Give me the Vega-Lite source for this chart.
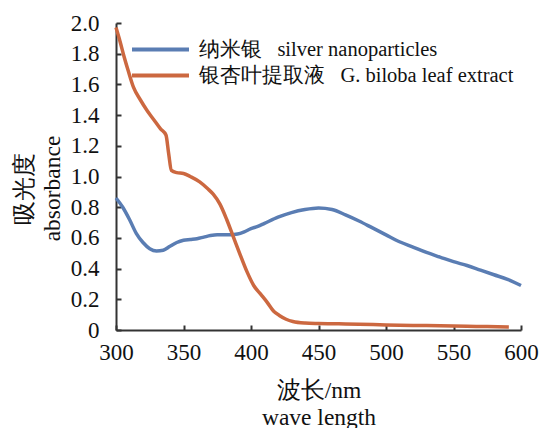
{
  "$schema": "https://vega.github.io/schema/vega-lite/v6.json",
  "autosize": "none",
  "padding": {"left": 116, "top": 23, "right": 23, "bottom": 98},
  "width": 405,
  "height": 307,
  "background": "white",
  "config": {
    "view": {"stroke": null},
    "font": "Liberation Serif",
    "axis": {
      "grid": false,
      "domainColor": "#333333",
      "domainWidth": 2,
      "tickColor": "#333333",
      "tickWidth": 2,
      "tickSize": -5,
      "labelFlush": false,
      "labelFont": "Liberation Serif",
      "labelFontSize": 23,
      "labelColor": "#111111",
      "titleFont": "Liberation Serif",
      "titleFontSize": 23.5,
      "titleFontWeight": "normal",
      "titleColor": "#111111"
    },
    "legend": {
      "orient": "none",
      "legendX": 33,
      "legendY": 15,
      "title": null,
      "labelFont": "Liberation Serif",
      "labelFontSize": 20.5,
      "labelColor": "#111111",
      "labelLimit": 500,
      "symbolType": "M-3,0H3",
      "symbolSize": 361,
      "symbolStrokeWidth": 4,
      "rowPadding": 4,
      "labelOffset": 27
    }
  },
  "data": {
    "values": [
      {"nm": 300, "abs": 0.86, "s": "a"},
      {"nm": 305, "abs": 0.80, "s": "a"},
      {"nm": 310, "abs": 0.72, "s": "a"},
      {"nm": 315, "abs": 0.63, "s": "a"},
      {"nm": 320, "abs": 0.57, "s": "a"},
      {"nm": 325, "abs": 0.53, "s": "a"},
      {"nm": 330, "abs": 0.515, "s": "a"},
      {"nm": 335, "abs": 0.52, "s": "a"},
      {"nm": 340, "abs": 0.545, "s": "a"},
      {"nm": 345, "abs": 0.57, "s": "a"},
      {"nm": 350, "abs": 0.585, "s": "a"},
      {"nm": 355, "abs": 0.59, "s": "a"},
      {"nm": 360, "abs": 0.595, "s": "a"},
      {"nm": 365, "abs": 0.605, "s": "a"},
      {"nm": 370, "abs": 0.615, "s": "a"},
      {"nm": 375, "abs": 0.62, "s": "a"},
      {"nm": 380, "abs": 0.62, "s": "a"},
      {"nm": 385, "abs": 0.62, "s": "a"},
      {"nm": 390, "abs": 0.625, "s": "a"},
      {"nm": 395, "abs": 0.64, "s": "a"},
      {"nm": 400, "abs": 0.66, "s": "a"},
      {"nm": 405, "abs": 0.675, "s": "a"},
      {"nm": 410, "abs": 0.695, "s": "a"},
      {"nm": 420, "abs": 0.735, "s": "a"},
      {"nm": 430, "abs": 0.765, "s": "a"},
      {"nm": 440, "abs": 0.785, "s": "a"},
      {"nm": 450, "abs": 0.795, "s": "a"},
      {"nm": 460, "abs": 0.785, "s": "a"},
      {"nm": 470, "abs": 0.75, "s": "a"},
      {"nm": 480, "abs": 0.71, "s": "a"},
      {"nm": 490, "abs": 0.665, "s": "a"},
      {"nm": 500, "abs": 0.62, "s": "a"},
      {"nm": 510, "abs": 0.575, "s": "a"},
      {"nm": 520, "abs": 0.54, "s": "a"},
      {"nm": 530, "abs": 0.505, "s": "a"},
      {"nm": 540, "abs": 0.475, "s": "a"},
      {"nm": 550, "abs": 0.445, "s": "a"},
      {"nm": 560, "abs": 0.42, "s": "a"},
      {"nm": 570, "abs": 0.39, "s": "a"},
      {"nm": 580, "abs": 0.36, "s": "a"},
      {"nm": 590, "abs": 0.33, "s": "a"},
      {"nm": 600, "abs": 0.29, "s": "a"},
      {"nm": 300, "abs": 1.97, "s": "b"},
      {"nm": 303, "abs": 1.88, "s": "b"},
      {"nm": 306, "abs": 1.78, "s": "b"},
      {"nm": 309, "abs": 1.69, "s": "b"},
      {"nm": 313, "abs": 1.58, "s": "b"},
      {"nm": 318, "abs": 1.50, "s": "b"},
      {"nm": 323, "abs": 1.43, "s": "b"},
      {"nm": 328, "abs": 1.37, "s": "b"},
      {"nm": 333, "abs": 1.31, "s": "b"},
      {"nm": 337, "abs": 1.27, "s": "b"},
      {"nm": 339, "abs": 1.15, "s": "b"},
      {"nm": 341, "abs": 1.04, "s": "b"},
      {"nm": 345, "abs": 1.025, "s": "b"},
      {"nm": 350, "abs": 1.02, "s": "b"},
      {"nm": 355, "abs": 1.0, "s": "b"},
      {"nm": 362, "abs": 0.965, "s": "b"},
      {"nm": 368, "abs": 0.92, "s": "b"},
      {"nm": 372, "abs": 0.885, "s": "b"},
      {"nm": 377, "abs": 0.82, "s": "b"},
      {"nm": 382, "abs": 0.72, "s": "b"},
      {"nm": 387, "abs": 0.605, "s": "b"},
      {"nm": 392, "abs": 0.49, "s": "b"},
      {"nm": 397, "abs": 0.38, "s": "b"},
      {"nm": 402, "abs": 0.29, "s": "b"},
      {"nm": 407, "abs": 0.235, "s": "b"},
      {"nm": 412, "abs": 0.18, "s": "b"},
      {"nm": 417, "abs": 0.12, "s": "b"},
      {"nm": 421, "abs": 0.095, "s": "b"},
      {"nm": 426, "abs": 0.07, "s": "b"},
      {"nm": 431, "abs": 0.055, "s": "b"},
      {"nm": 440, "abs": 0.045, "s": "b"},
      {"nm": 450, "abs": 0.042, "s": "b"},
      {"nm": 465, "abs": 0.04, "s": "b"},
      {"nm": 480, "abs": 0.038, "s": "b"},
      {"nm": 500, "abs": 0.033, "s": "b"},
      {"nm": 520, "abs": 0.03, "s": "b"},
      {"nm": 540, "abs": 0.028, "s": "b"},
      {"nm": 560, "abs": 0.025, "s": "b"},
      {"nm": 575, "abs": 0.022, "s": "b"},
      {"nm": 591, "abs": 0.02, "s": "b"}
    ]
  },
  "mark": {"type": "line", "strokeWidth": 3.5, "interpolate": "monotone"},
  "encoding": {
    "x": {
      "field": "nm", "type": "quantitative",
      "scale": {"domain": [300, 600], "nice": false, "zero": false},
      "axis": {
        "values": [300, 350, 400, 450, 500, 550, 600],
        "labelFont": "Liberation Serif",
        "labelFontSize": 23,
        "labelFlush": false,
        "labelPadding": 16,
        "title": ["波长/nm", "wave length"],
        "titleLineHeight": 27,
        "titleBaseline": "top",
        "titleY": 48
      }
    },
    "y": {
      "field": "abs", "type": "quantitative",
      "scale": {"domain": [0, 2], "nice": false},
      "axis": {
        "values": [0, 0.2, 0.4, 0.6, 0.8, 1.0, 1.2, 1.4, 1.6, 1.8, 2.0],
        "labelExpr": "datum.value == 0 ? '0' : format(datum.value, '.1f')",
        "labelFont": "Liberation Serif",
        "labelFontSize": 23,
        "labelFlush": false,
        "labelPadding": 22,
        "title": ["吸光度", "absorbance"],
        "titleLineHeight": 28,
        "titleAngle": -90,
        "titleBaseline": "bottom",
        "titleAlign": "center",
        "titleX": -80,
        "titleY": 165
      }
    },
    "color": {
      "field": "s", "type": "nominal",
      "scale": {
        "domain": ["a", "b"],
        "range": ["#5a7db3", "#cc6840"]
      },
      "legend": {
        "labelExpr": "datum.value == 'a' ? '纳米银\u00a0\u00a0\u00a0silver nanoparticles' : '银杏叶提取液\u00a0\u00a0\u00a0G. biloba leaf extract'"
      }
    }
  }
}
